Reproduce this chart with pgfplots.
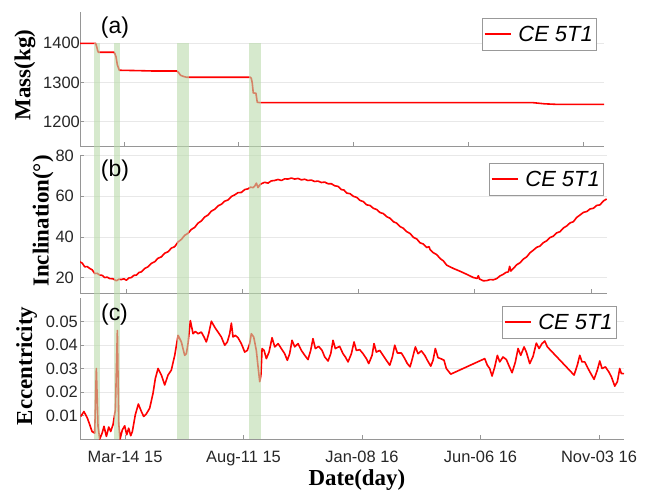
\documentclass[border=0pt]{standalone}
\usepackage{fontspec}
\setmainfont{Liberation Sans}
\newfontfamily\labelfont{Liberation Serif}
\usepackage{pgfplots}
\pgfplotsset{compat=1.18}

\definecolor{eline}{RGB}{255,0,0}
\definecolor{bandgreen}{rgb}{0.73,0.86,0.67}
\definecolor{axgray}{RGB}{150,150,150}
\definecolor{gridgray}{RGB}{232,232,232}
\definecolor{ticktext}{RGB}{38,38,38}

% common look of the three stacked panels (days counted from 14 Mar 2015)
\pgfplotsset{
  panel/.style={
    scale only axis,
    axis lines*=left,
    axis line style={axgray, line width=0.6pt},
    tick align=inside,
    major tick length=4bp,
    tick style={axgray, line width=0.6pt},
    ymajorgrids,
    grid style={gridgray, line width=0.6pt},
    xtick={0,150,300,450,600},
    scaled ticks=false,
    /pgf/number format/assume math mode=true,
    tick label style={font=\fontsize{16.5}{18}\selectfont, text=ticktext, inner sep=0pt},
    xticklabel style={yshift=-11.7bp},
    ylabel style={font=\labelfont\bfseries\fontsize{23}{25}\selectfont, anchor=base},
    xlabel style={font=\labelfont\bfseries\fontsize{23}{25}\selectfont, anchor=base},
    legend style={anchor=north east, draw=gray!80, line width=0.5pt, fill=white,
      font=\fontsize{22}{26}\selectfont\itshape, inner xsep=2bp, inner ysep=5.5bp,
      nodes={inner sep=2bp}, /tikz/every odd column/.style={column sep=5bp}},
    legend image code/.code={\draw[#1] (0bp,0bp) -- (26bp,0bp);},
  },
  eplot/.style={eline, line width=1.6bp, mark=none, line join=round},
  band/.style={draw=none, fill=bandgreen, fill opacity=0.6, forget plot},
}

\begin{document}
\begin{tikzpicture}
\useasboundingbox (0,0) rectangle (653bp,495bp);

% (a) satellite mass
\begin{axis}[panel,
  at={(80bp,349bp)}, anchor=south west, width=524bp, height=134.3bp,
  xmin=-57.5, xmax=627.5, ymin=1137, ymax=1481,
  ytick={1200,1300,1400}, yticklabels={1200,1300,1400},
  yticklabel style={xshift=0bp},
  xticklabels={},
  ylabel={Mass(kg)}, ylabel style={at={(axis description cs:-0.0948,0.529)}},
  legend style={at={(0.9866,0.953)}},
]
\addplot[eplot] coordinates {
(-57.5,1400) (-37,1400) (-35.5,1390) (-34.5,1382) (-33.5,1377) (-13,1377)
(-12,1374) (-10.5,1366) (-8.7,1345) (-6.1,1331) (20,1330) (40,1329) (69,1329)
(71,1326) (74,1318) (78,1315) (82,1313) (165,1313) (166.5,1310) (167.7,1298)
(169,1273) (172.5,1272) (174.2,1249) (178,1248) (534.6,1248) (550,1245)
(565.6,1243.6) (627.5,1243.6)
};
\addlegendentry{CE 5T1}
\end{axis}

% (b) orbit inclination
\begin{axis}[panel,
  at={(80bp,202bp)}, anchor=south west, width=527bp, height=137.3bp,
  xmin=-59.4, xmax=620.6, ymin=12.4, ymax=80,
  ytick={20,40,60,80}, yticklabels={20,40,60,80},
  yticklabel style={xshift=-6bp},
  xticklabels={},
  ylabel={Inclination(°)}, ylabel style={at={(axis description cs:-0.0596,0.524)}},
  legend style={at={(0.9943,0.947)}},
]
\addplot[eplot] coordinates {
(-59.8,27.8) (-56.5,27.1) (-53.3,25.3) (-50.1,25.4) (-46.9,24.5) (-43.6,23.8)
(-40.4,22.0) (-37.2,22.1) (-34.0,21.2) (-30.8,21.1) (-27.5,20.0) (-24.3,20.2)
(-21.0,19.5) (-16.8,19.4) (-12.5,18.4) (-9.2,19.2) (-6.0,19.0) (-2.8,19.4)
(0.4,18.7) (3.7,19.8) (6.9,20.0) (10.1,21.1) (13.3,21.2) (16.6,22.5)
(19.8,22.8) (24.1,24.5) (28.4,25.3) (32.7,27.0) (37.0,27.8) (41.3,29.5)
(45.6,30.2) (49.9,32.0) (54.2,32.7) (58.5,34.5) (62.8,35.2) (67.1,37.5)
(71.4,38.8) (75.7,40.8) (80.0,41.8) (84.3,43.7) (88.6,44.7) (92.9,46.8)
(97.2,47.9) (101.5,49.8) (105.8,50.8) (110.1,52.7) (114.4,53.6) (118.7,55.3)
(123.0,56.1) (127.3,57.6) (131.6,58.2) (135.9,59.9) (140.2,60.7) (144.5,61.8)
(148.8,61.9) (153.1,63.3) (157.4,63.7) (160.7,64.5) (163.9,64.3) (166.0,65.0)
(168.2,66.5) (170.3,64.3) (172.5,65.6) (174.6,66.2) (178.9,66.9) (183.2,66.5)
(187.5,67.6) (191.8,67.8) (196.1,68.3) (200.4,67.8) (204.7,68.6) (209.0,68.5)
(213.3,69.0) (217.6,68.5) (221.9,68.8) (226.2,68.1) (230.5,68.4) (234.8,67.8)
(239.1,68.0) (243.4,67.3) (247.7,67.5) (252.0,66.8) (256.3,67.0) (260.6,66.2)
(264.9,66.2) (269.2,65.2) (273.5,64.9) (277.8,63.3) (281.2,63.1) (284.7,61.6)
(289.0,61.3) (293.3,60.0) (297.6,59.5) (301.9,58.0) (306.2,57.4) (310.5,55.8)
(314.8,55.5) (319.1,54.1) (323.4,53.5) (327.7,52.0) (332.0,51.5) (336.3,50.0)
(340.6,49.2) (344.9,47.5) (349.2,46.8) (353.5,45.1) (357.8,44.3) (362.2,42.6)
(366.5,41.7) (370.8,39.8) (375.1,39.0) (379.4,37.1) (383.7,36.5) (388.0,34.8)
(391.0,35.2) (392.3,33.8) (396.6,32.2) (400.9,31.3) (405.2,29.4) (409.5,28.2)
(413.8,26.1) (422.3,24.5) (431.0,23.1) (439.6,21.6) (448.2,20.0) (453.0,19.6)
(454.6,20.9) (456.0,19.3) (461.1,18.4) (465.4,18.5) (469.7,19.0) (474.0,18.9)
(478.3,19.5) (482.5,20.8) (486.8,21.6) (490.0,22.5) (493.3,22.8) (495.0,25.5)
(496.5,23.2) (499.8,24.5) (504.1,26.3) (508.4,27.3) (512.7,29.1) (517.0,30.2)
(521.3,32.2) (525.6,33.5) (529.9,34.9) (534.2,35.5) (538.5,37.2) (542.8,38.1)
(547.1,39.7) (551.4,40.4) (555.7,42.0) (560.0,42.6) (564.3,44.4) (568.6,45.4)
(572.9,46.9) (577.2,47.5) (581.5,49.6) (585.8,50.8) (590.2,52.1) (594.5,52.5)
(598.8,53.8) (603.0,54.1) (607.3,55.5) (611.6,55.8) (615.9,57.7) (620.2,58.7)
};
\addlegendentry{CE 5T1}
\end{axis}

% (c) orbit eccentricity, plus the manoeuvre windows spanning all panels
\begin{axis}[panel,
  at={(80bp,56bp)}, anchor=south west, width=544bp, height=141bp,
  xmin=-57, xmax=631.6, ymin=0, ymax=0.06, clip=false,
  ytick={0.01,0.02,0.03,0.04,0.05}, yticklabels={0.01,0.02,0.03,0.04,0.05},
  yticklabel style={xshift=-2bp},
  xticklabels={Mar-14 15,Aug-11 15,Jan-08 16,Jun-06 16,Nov-03 16},
  ylabel={Eccentricity}, ylabel style={at={(axis description cs:-0.0882,0.518)}},
  xlabel={Date(day)}, xlabel style={at={(axis description cs:0.509,-0.333)}},
  legend style={at={(0.987,0.943)}},
]
\addplot[eplot] coordinates {
(-56,0.0096) (-52,0.0117) (-47.7,0.0089) (-44.7,0.0061) (-41.8,0.0032)
(-38.4,0.0025) (-36.3,0.030) (-34.2,0.0054) (-32,0.0) (-29,0.0025)
(-26.6,0.0054) (-23.6,0.0011) (-20.6,0.0051) (-18.1,0.0032) (-15.2,0.0061)
(-12.2,0.0124) (-9.7,0.0462) (-8,0.0068) (-6.3,0.0) (-3.4,0.0039)
(-0.4,0.0056) (2.1,0.0018) (4.6,0.0046) (7.2,0.0014) (9.3,0.0032)
(13,0.0103) (16.9,0.0149) (20.7,0.0117) (23.6,0.0096) (27,0.0107)
(31.2,0.0131) (35.4,0.0194) (38.4,0.0258) (41.8,0.030) (46,0.0272)
(50.2,0.023) (54.4,0.0272) (58.6,0.0293) (62.9,0.0356) (67.1,0.0441)
(71.3,0.0413) (75.5,0.0356) (77.6,0.0363) (79.7,0.0406) (82.7,0.0504)
(86.1,0.0448) (89,0.0458) (92.4,0.0448) (96.6,0.0455) (100,0.0434)
(102.9,0.0413) (105.9,0.0448) (109.3,0.0501) (113.5,0.0476) (117.7,0.0455)
(121.9,0.0434) (126.2,0.0399) (129.5,0.0413) (132.5,0.0448) (134.6,0.0493)
(136.7,0.0434) (139.6,0.0441) (143,0.0431) (147.2,0.0406) (151.5,0.037)
(154.8,0.0377) (157.8,0.0406) (159.9,0.0448) (162.9,0.0434) (166.2,0.0377)
(168.4,0.0307) (170.5,0.0244) (172,0.027) (173.5,0.0385) (176,0.0377)
(178.9,0.0342) (182.3,0.037) (186.1,0.0431) (189.5,0.0392) (193.7,0.0406)
(197.8,0.0385) (202.1,0.0363) (205.4,0.0335) (208.4,0.0363) (211.4,0.042)
(214.8,0.0392) (219,0.0406) (223.2,0.0377) (227.5,0.0356) (231.6,0.0338)
(235,0.0377) (237.9,0.0427) (240.9,0.0385) (245.2,0.0394) (249.4,0.0377)
(252.8,0.0349) (257,0.0332) (260.4,0.0363) (263.3,0.042) (266.2,0.0385)
(271.7,0.0394) (275.9,0.0363) (278.9,0.0349) (282.3,0.0328) (286.5,0.0363)
(289.9,0.0413) (292.8,0.0377) (297.1,0.038) (301.3,0.0363) (305.5,0.0342)
(308.5,0.0321) (312.7,0.0356) (315.2,0.0406) (318.1,0.037) (322.4,0.0377)
(326.6,0.0356) (330.8,0.0335) (335.1,0.0314) (338.4,0.0349) (341.4,0.0399)
(344.7,0.0366) (349.8,0.0366) (354.1,0.0342) (357.3,0.0321) (360.8,0.0307)
(363.7,0.0342) (367.5,0.0392) (370.9,0.0363) (375.1,0.0375) (379.4,0.0356)
(382.7,0.0335) (387,0.031) (389.9,0.0335) (392.8,0.0385) (396.2,0.0346)
(399.6,0.0342) (403.8,0.0335) (406.7,0.030) (412.3,0.0276) (455.3,0.0342)
(458.6,0.0314) (461.6,0.030) (464.6,0.0268) (468,0.0307) (471.3,0.0356)
(474.3,0.0328) (478.5,0.0349) (482.7,0.0338) (485.7,0.0314) (489.9,0.0282)
(494.1,0.0328) (497.5,0.0385) (500.9,0.0356) (505.1,0.0392) (508,0.037)
(512.3,0.0321) (516.5,0.0352) (520.6,0.0408) (524.1,0.0385) (527.8,0.0406)
(531.3,0.0417) (534.6,0.0392) (568.4,0.0272) (572.5,0.0314) (575.6,0.0356)
(578.5,0.0328) (581.9,0.0328) (586.1,0.030) (589.5,0.0279) (593.7,0.0254)
(597.8,0.0293) (600.9,0.0332) (603.8,0.030) (608,0.0307) (612.3,0.0286)
(615.6,0.0265) (619.9,0.0225) (623.2,0.0244) (626.2,0.030) (628.2,0.0279)
(631.6,0.0278)
};
\addlegendentry{CE 5T1}
% manoeuvre windows (shaded from the bottom axis up to the 1400 kg level)
\addplot[band] coordinates {(-39.2,0) (-32.0,0) (-32.0,0.1686) (-39.2,0.1686)} --cycle;
\addplot[band] coordinates {(-13.9,0) (-6.7,0) (-6.7,0.1686) (-13.9,0.1686)} --cycle;
\addplot[band] coordinates {(66.2,0) (81.0,0) (81.0,0.1686) (66.2,0.1686)} --cycle;
\addplot[band] coordinates {(157.0,0) (171.8,0) (171.8,0.1686) (157.0,0.1686)} --cycle;
\end{axis}

% panel tags
\node[font=\fontsize{23}{25}\selectfont] at (115bp,467bp) {(a)};
\node[font=\fontsize{23}{25}\selectfont] at (115bp,324.6bp) {(b)};
\node[font=\fontsize{23}{25}\selectfont] at (114.5bp,180.5bp) {(c)};
\end{tikzpicture}
\end{document}
